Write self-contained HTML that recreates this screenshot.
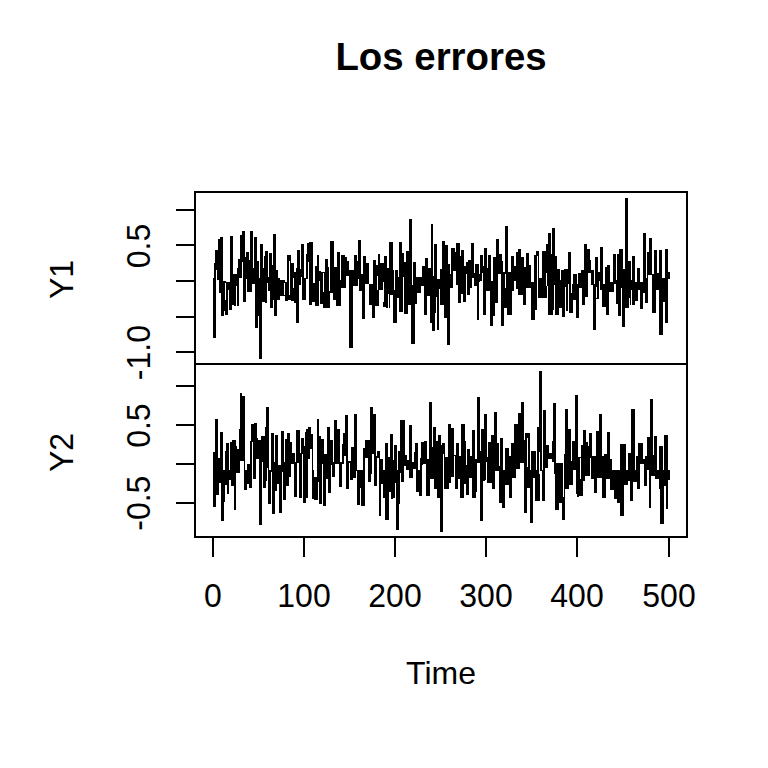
<!DOCTYPE html><html><head><meta charset="utf-8"><style>html,body{margin:0;padding:0;background:#fff;width:768px;height:768px;overflow:hidden}svg{display:block}</style></head><body><svg width="768" height="768" viewBox="0 0 768 768"><rect x="0" y="0" width="768" height="768" fill="#fff"/>
<g stroke="#000" stroke-width="2" fill="none" shape-rendering="crispEdges">
<rect x="195" y="192" width="492" height="172"/>
<rect x="195" y="364" width="492" height="173"/>
<line x1="176" y1="210" x2="195" y2="210"/>
<line x1="176" y1="245" x2="195" y2="245"/>
<line x1="176" y1="281" x2="195" y2="281"/>
<line x1="176" y1="317" x2="195" y2="317"/>
<line x1="176" y1="352" x2="195" y2="352"/>
<line x1="176" y1="386" x2="195" y2="386"/>
<line x1="176" y1="425" x2="195" y2="425"/>
<line x1="176" y1="464" x2="195" y2="464"/>
<line x1="176" y1="503" x2="195" y2="503"/>
<line x1="213" y1="537" x2="213" y2="557"/>
<line x1="304" y1="537" x2="304" y2="557"/>
<line x1="395" y1="537" x2="395" y2="557"/>
<line x1="486" y1="537" x2="486" y2="557"/>
<line x1="577" y1="537" x2="577" y2="557"/>
<line x1="669" y1="537" x2="669" y2="557"/>
</g>
<path d="M213.5 278V338M214.5 263V338M215.5 250V338M216.5 250V270M217.5 250V280M218.5 239V280M219.5 239V293M220.5 237V293M221.5 237V316M222.5 237V316M223.5 281V316M224.5 281V311M225.5 281V283M225.5 300V315M226.5 282V315M227.5 282V315M228.5 282V290M229.5 282V310M230.5 236V310M231.5 236V310M232.5 236V305M233.5 274V305M234.5 274V306M235.5 274V306M236.5 274V286M237.5 268V306M238.5 259V306M239.5 259V278M240.5 235V278M241.5 235V278M242.5 231V262M243.5 231V302M244.5 231V302M245.5 257V302M246.5 252V279M247.5 252V292M248.5 252V292M249.5 260V292M250.5 231V292M251.5 231V292M252.5 231V284M253.5 268V284M254.5 237V284M255.5 237V328M256.5 237V328M257.5 261V328M258.5 261V316M259.5 278V359M260.5 244V359M261.5 244V359M262.5 244V302M263.5 268V302M264.5 256V302M265.5 251V303M266.5 251V303M267.5 251V283M268.5 277V291M269.5 253V291M270.5 253V308M271.5 253V308M272.5 265V308M273.5 234V300M274.5 234V316M275.5 234V316M276.5 270V316M277.5 270V300M278.5 278V300M279.5 278V300M280.5 280V296M281.5 280V296M282.5 280V296M283.5 280V296M284.5 280V283M284.5 295V296M285.5 282V301M286.5 282V301M287.5 255V301M288.5 255V300M289.5 255V261M289.5 295V300M290.5 255V300M291.5 263V301M292.5 263V301M293.5 263V278M293.5 288V301M294.5 272V303M295.5 272V303M296.5 268V323M297.5 250V323M298.5 250V323M299.5 250V285M300.5 269V285M301.5 244V277M302.5 244V300M303.5 244V300M304.5 278V300M305.5 278V300M306.5 254V279M307.5 243V279M308.5 243V262M309.5 242V305M310.5 242V305M311.5 242V305M312.5 242V302M313.5 283V302M314.5 283V302M315.5 266V306M316.5 266V306M317.5 255V306M318.5 255V306M319.5 271V281M320.5 271V304M321.5 272V304M322.5 272V304M323.5 272V273M323.5 292V308M324.5 272V308M325.5 259V308M326.5 259V308M327.5 259V308M328.5 267V308M329.5 291V308M330.5 241V293M331.5 241V293M332.5 241V293M333.5 241V300M334.5 267V300M335.5 267V300M336.5 267V306M337.5 252V306M338.5 252V306M339.5 252V306M340.5 280V306M341.5 255V288M342.5 255V288M343.5 255V288M344.5 255V288M345.5 257V288M346.5 257V276M347.5 261V276M348.5 261V276M349.5 270V348M350.5 270V348M351.5 270V348M352.5 270V348M353.5 270V286M354.5 255V286M355.5 255V286M356.5 255V286M357.5 261V286M358.5 240V279M359.5 240V291M360.5 240V291M361.5 274V291M362.5 274V319M363.5 256V319M364.5 256V319M365.5 256V284M366.5 263V284M367.5 263V284M368.5 263V284M369.5 284V305M370.5 284V305M371.5 284V305M372.5 284V318M373.5 260V318M374.5 260V318M375.5 260V306M376.5 265V306M377.5 265V276M377.5 290V306M378.5 254V306M379.5 254V290M380.5 263V290M381.5 263V290M382.5 263V290M383.5 263V282M383.5 302V307M384.5 256V307M385.5 256V307M386.5 256V308M387.5 268V308M388.5 268V294M389.5 242V308M390.5 242V295M391.5 242V295M392.5 242V295M393.5 270V323M394.5 290V323M395.5 270V323M396.5 270V323M397.5 270V298M398.5 277V298M399.5 242V312M400.5 242V312M401.5 242V312M402.5 253V312M403.5 253V277M404.5 262V314M405.5 262V314M406.5 251V314M407.5 251V314M408.5 251V305M409.5 219V305M410.5 219V305M411.5 219V344M412.5 285V344M413.5 262V344M414.5 262V344M415.5 262V304M416.5 277V304M417.5 277V293M418.5 277V293M419.5 277V293M420.5 277V293M421.5 277V286M422.5 266V286M423.5 266V286M424.5 266V315M425.5 258V315M426.5 258V315M427.5 258V296M428.5 268V296M429.5 268V296M430.5 268V323M431.5 224V323M432.5 224V331M433.5 276V331M434.5 244V331M435.5 244V313M436.5 244V297M437.5 279V330M438.5 279V330M439.5 279V289M440.5 269V305M441.5 269V305M442.5 241V305M443.5 241V305M444.5 241V318M445.5 245V318M446.5 245V318M447.5 245V345M448.5 264V345M449.5 264V345M450.5 274V288M451.5 248V288M452.5 248V288M453.5 248V271M454.5 248V271M455.5 252V271M456.5 243V285M457.5 243V285M458.5 243V303M459.5 243V303M460.5 256V303M461.5 250V294M462.5 250V294M463.5 250V302M464.5 266V302M465.5 266V302M466.5 262V274M467.5 262V295M468.5 260V295M469.5 260V295M470.5 260V288M471.5 243V288M472.5 243V278M473.5 243V278M474.5 273V286M475.5 264V286M476.5 264V286M477.5 264V320M478.5 264V320M479.5 274V282M480.5 255V281M481.5 255V281M482.5 255V273M483.5 266V315M484.5 248V315M485.5 248V315M486.5 248V291M487.5 268V291M488.5 255V291M489.5 255V291M490.5 255V326M491.5 281V326M492.5 281V326M493.5 257V316M494.5 257V316M495.5 257V303M496.5 239V303M497.5 239V303M498.5 239V274M499.5 254V274M500.5 254V274M501.5 254V326M502.5 261V326M503.5 272V326M504.5 272V308M505.5 226V274M505.5 288V308M506.5 226V308M507.5 226V315M508.5 272V315M509.5 272V315M510.5 272V315M511.5 256V315M512.5 256V291M513.5 256V291M514.5 266V281M515.5 266V281M516.5 252V289M517.5 252V289M518.5 249V295M519.5 249V295M520.5 249V295M521.5 257V295M522.5 257V295M523.5 257V305M524.5 267V305M525.5 267V305M526.5 253V288M527.5 253V288M528.5 253V288M529.5 265V288M530.5 265V288M531.5 282V320M532.5 282V320M533.5 282V320M534.5 255V320M535.5 255V310M536.5 251V310M537.5 251V256M538.5 251V298M539.5 278V298M540.5 278V298M541.5 278V298M542.5 251V298M543.5 251V298M544.5 251V298M545.5 251V298M546.5 244V273M546.5 286V298M547.5 244V286M548.5 233V315M549.5 233V315M550.5 233V315M551.5 254V315M552.5 228V315M553.5 228V310M554.5 228V285M555.5 256V315M556.5 256V315M557.5 269V315M558.5 269V315M559.5 269V308M560.5 280V308M561.5 270V308M562.5 270V317M563.5 270V317M564.5 269V317M565.5 269V287M566.5 269V311M567.5 269V311M568.5 252V284M569.5 252V313M570.5 252V313M571.5 293V313M572.5 284V313M573.5 274V300M574.5 274V300M575.5 274V300M576.5 274V318M577.5 284V318M578.5 273V318M579.5 273V288M580.5 273V288M581.5 270V288M582.5 270V305M583.5 270V305M584.5 244V305M585.5 244V297M586.5 244V297M587.5 249V297M588.5 249V273M589.5 249V273M590.5 260V273M591.5 270V285M592.5 270V285M593.5 270V330M594.5 284V330M595.5 257V330M596.5 257V287M596.5 298V299M597.5 257V299M598.5 272V299M599.5 272V281M600.5 247V290M601.5 247V290M602.5 247V307M603.5 284V307M604.5 284V307M605.5 267V307M606.5 267V315M607.5 265V315M608.5 265V315M609.5 265V292M610.5 282V292M611.5 282V292M612.5 282V292M613.5 254V292M614.5 254V284M615.5 254V284M616.5 280V304M617.5 254V304M618.5 254V316M619.5 249V316M620.5 249V316M621.5 249V288M622.5 249V327M623.5 269V327M624.5 269V327M625.5 198V308M626.5 198V308M627.5 198V308M628.5 261V308M629.5 261V298M630.5 261V305M631.5 280V290M632.5 256V305M633.5 256V305M634.5 256V305M635.5 282V301M636.5 282V301M637.5 268V301M638.5 268V290M639.5 268V290M640.5 282V309M641.5 282V309M642.5 282V309M643.5 233V293M644.5 233V293M645.5 233V303M646.5 278V303M647.5 252V303M648.5 252V275M649.5 238V275M650.5 238V275M651.5 238V275M652.5 274V313M653.5 274V313M654.5 250V313M655.5 250V313M656.5 250V290M657.5 273V290M658.5 273V290M659.5 250V335M660.5 250V335M661.5 250V335M662.5 278V335M663.5 278V302M664.5 278V302M665.5 249V323M666.5 249V323M667.5 249V323M668.5 272V279M669.5 272V279" stroke="#000" stroke-width="1" fill="none" shape-rendering="crispEdges"/>
<path d="M213.5 452V507M214.5 452V507M215.5 419V507M216.5 419V495M217.5 419V495M218.5 458V495M219.5 458V483M220.5 432V483M221.5 432V521M222.5 432V521M223.5 470V521M224.5 470V502M225.5 451V485M226.5 443V485M227.5 443V494M228.5 443V494M229.5 470V480M230.5 442V480M231.5 442V486M232.5 440V486M233.5 440V486M234.5 440V510M235.5 440V510M236.5 446V473M237.5 449V473M238.5 449V473M239.5 429V473M240.5 393V461M241.5 393V461M242.5 396V461M243.5 396V461M244.5 396V490M245.5 470V490M246.5 470V490M247.5 464V484M248.5 464V484M249.5 464V488M250.5 441V488M251.5 424V488M252.5 424V442M253.5 424V479M254.5 423V479M255.5 423V479M256.5 423V459M257.5 438V459M258.5 440V459M259.5 440V525M260.5 440V525M261.5 436V525M262.5 436V462M263.5 436V488M264.5 436V488M265.5 427V488M266.5 407V481M267.5 407V468M268.5 407V504M269.5 470V504M270.5 470V504M271.5 433V472M272.5 433V514M273.5 433V514M274.5 462V514M275.5 435V491M276.5 435V491M277.5 435V484M278.5 465V484M279.5 465V513M280.5 465V513M281.5 431V513M282.5 431V472M283.5 431V500M284.5 462V500M285.5 439V500M286.5 439V486M287.5 433V486M288.5 433V486M289.5 433V477M290.5 442V477M291.5 442V464M292.5 453V464M293.5 453V464M294.5 453V497M295.5 462V497M296.5 430V497M297.5 430V463M298.5 430V463M299.5 430V498M300.5 453V498M301.5 438V498M302.5 438V454M303.5 438V503M304.5 446V503M305.5 432V503M306.5 429V498M307.5 429V498M308.5 427V459M309.5 427V459M310.5 427V449M311.5 434V449M312.5 434V499M313.5 470V499M314.5 477V500M315.5 477V500M316.5 477V500M317.5 419V500M318.5 419V482M319.5 436V504M320.5 436V504M321.5 439V504M322.5 439V464M323.5 439V506M324.5 454V506M325.5 454V506M326.5 454V479M327.5 427V479M328.5 427V493M329.5 427V493M330.5 440V493M331.5 440V465M332.5 440V477M333.5 462V477M334.5 420V477M335.5 420V464M336.5 420V464M337.5 429V464M338.5 429V464M339.5 429V487M340.5 462V487M341.5 462V487M342.5 444V464M343.5 433V464M344.5 433V456M345.5 415V456M346.5 415V489M347.5 415V489M348.5 461V489M349.5 461V463M350.5 461V480M351.5 447V480M352.5 447V480M353.5 447V478M354.5 414V478M355.5 414V478M356.5 414V471M357.5 470V505M358.5 470V505M359.5 470V505M360.5 470V488M361.5 470V506M362.5 470V506M363.5 448V506M364.5 448V506M365.5 440V458M366.5 440V458M367.5 440V458M368.5 440V482M369.5 440V482M370.5 407V482M371.5 407V474M372.5 407V454M373.5 414V454M374.5 414V486M375.5 414V486M376.5 456V486M377.5 451V458M378.5 451V458M379.5 451V516M380.5 459V516M381.5 459V484M382.5 459V484M383.5 470V498M384.5 470V498M385.5 443V520M386.5 443V520M387.5 443V520M388.5 457V520M389.5 457V492M390.5 434V492M391.5 434V499M392.5 434V499M393.5 460V498M394.5 445V498M395.5 445V483M396.5 445V530M397.5 470V530M398.5 451V530M399.5 451V504M400.5 420V473M401.5 420V482M402.5 420V482M403.5 420V482M404.5 420V466M405.5 455V466M406.5 455V470M407.5 460V470M408.5 460V470M409.5 425V478M410.5 425V478M411.5 425V478M412.5 462V478M413.5 462V469M414.5 452V469M415.5 443V469M416.5 443V492M417.5 443V492M418.5 470V492M419.5 470V496M420.5 458V496M421.5 442V496M422.5 442V465M423.5 442V464M424.5 441V464M425.5 441V464M426.5 441V496M427.5 459V496M428.5 459V496M429.5 402V496M430.5 402V479M431.5 402V479M432.5 447V479M433.5 427V479M434.5 427V489M435.5 427V489M436.5 441V489M437.5 441V498M438.5 435V498M439.5 435V498M440.5 435V532M441.5 445V532M442.5 443V532M443.5 443V454M444.5 443V489M445.5 457V489M446.5 457V489M447.5 457V489M448.5 424V489M449.5 424V483M450.5 424V483M451.5 428V477M452.5 428V477M453.5 428V477M454.5 455V456M455.5 455V489M456.5 443V489M457.5 443V489M458.5 443V479M459.5 456V479M460.5 456V498M461.5 424V498M462.5 424V498M463.5 424V498M464.5 424V484M465.5 441V484M466.5 465V495M467.5 449V495M468.5 449V495M469.5 449V478M470.5 456V478M471.5 456V478M472.5 430V498M473.5 430V498M474.5 430V498M475.5 459V498M476.5 459V492M477.5 397V463M478.5 397V463M479.5 397V463M480.5 451V521M481.5 429V521M482.5 429V521M483.5 429V481M484.5 414V481M485.5 414V480M486.5 414V462M487.5 457V483M488.5 442V483M489.5 442V483M490.5 442V483M491.5 435V483M492.5 435V489M493.5 435V489M494.5 412V489M495.5 412V471M496.5 412V471M497.5 443V471M498.5 443V471M499.5 466V503M500.5 438V503M501.5 438V503M502.5 438V508M503.5 470V508M504.5 470V508M505.5 448V485M506.5 448V485M507.5 448V485M508.5 448V485M509.5 456V498M510.5 456V498M511.5 443V498M512.5 443V478M513.5 443V478M514.5 424V478M515.5 424V478M516.5 424V469M517.5 424V469M518.5 413V469M519.5 413V469M520.5 413V463M521.5 402V463M522.5 402V463M523.5 402V463M524.5 440V513M525.5 433V513M526.5 433V513M527.5 433V438M527.5 467V488M528.5 433V488M529.5 433V488M530.5 470V523M531.5 451V523M532.5 451V523M533.5 451V478M534.5 451V478M535.5 451V501M536.5 470V501M537.5 427V501M538.5 427V501M539.5 371V452M539.5 474V501M540.5 371V471M541.5 371V471M542.5 470V501M543.5 410V501M544.5 410V501M545.5 410V468M546.5 445V468M547.5 445V468M548.5 445V459M549.5 453V459M550.5 453V459M551.5 453V459M552.5 441V462M553.5 403V462M554.5 403V474M555.5 403V510M556.5 463V510M557.5 463V510M558.5 463V510M559.5 463V503M560.5 463V503M561.5 463V503M562.5 463V520M563.5 497V520M564.5 454V520M565.5 409V489M566.5 409V489M567.5 409V489M568.5 429V489M569.5 429V485M570.5 429V485M571.5 461V485M572.5 441V485M573.5 441V470M574.5 441V470M575.5 395V470M576.5 395V494M577.5 395V497M578.5 457V497M579.5 457V496M580.5 457V458M580.5 479V496M581.5 445V496M582.5 445V496M583.5 430V481M584.5 430V481M585.5 430V476M586.5 442V476M587.5 442V476M588.5 446V476M589.5 433V476M590.5 433V458M591.5 433V479M592.5 456V479M593.5 456V479M594.5 456V493M595.5 456V493M596.5 431V493M597.5 431V478M598.5 431V478M599.5 414V478M600.5 414V478M601.5 414V478M602.5 456V498M603.5 456V498M604.5 454V498M605.5 454V498M606.5 454V479M607.5 432V479M608.5 432V479M609.5 432V479M610.5 459V490M611.5 459V490M612.5 470V490M613.5 470V490M614.5 470V499M615.5 470V499M616.5 470V499M617.5 470V503M618.5 470V503M619.5 470V503M620.5 444V516M621.5 444V516M622.5 444V516M623.5 444V516M624.5 444V485M625.5 444V485M626.5 470V485M627.5 470V485M628.5 453V481M629.5 453V481M630.5 453V501M631.5 409V501M632.5 409V501M633.5 409V482M634.5 409V482M635.5 470V482M636.5 456V482M637.5 456V489M638.5 443V489M639.5 443V489M640.5 443V464M641.5 443V464M642.5 443V464M643.5 459V464M644.5 459V486M645.5 456V486M646.5 456V486M647.5 437V470M648.5 437V470M649.5 437V508M650.5 399V508M651.5 399V476M652.5 399V476M653.5 455V476M654.5 436V476M655.5 436V479M656.5 436V479M657.5 470V479M658.5 470V479M659.5 446V489M660.5 446V524M661.5 446V524M662.5 446V524M663.5 470V524M664.5 435V486M665.5 435V486M666.5 435V509M667.5 435V509M668.5 470V480M669.5 470V480" stroke="#000" stroke-width="1" fill="none" shape-rendering="crispEdges"/>
<g font-family="&quot;Liberation Sans&quot;, Arial, sans-serif" fill="#000"><text x="441" y="69.5" font-size="38.4" font-weight="bold" text-anchor="middle">Los errores</text><text x="441" y="684" font-size="32" text-anchor="middle">Time</text><text transform="translate(213,606.6) scale(1,1.045)" font-size="32" text-anchor="middle">0</text><text transform="translate(304,606.6) scale(1,1.045)" font-size="32" text-anchor="middle">100</text><text transform="translate(395,606.6) scale(1,1.045)" font-size="32" text-anchor="middle">200</text><text transform="translate(486,606.6) scale(1,1.045)" font-size="32" text-anchor="middle">300</text><text transform="translate(577,606.6) scale(1,1.045)" font-size="32" text-anchor="middle">400</text><text transform="translate(669,606.6) scale(1,1.045)" font-size="32" text-anchor="middle">500</text><text transform="translate(73.2,279.5) rotate(-90) scale(1,1.03)" font-size="32" text-anchor="middle">Y1</text><text transform="translate(73.2,452.5) rotate(-90) scale(1,1.03)" font-size="32" text-anchor="middle">Y2</text><text transform="translate(150.3,246) rotate(-90) scale(1,1.045)" font-size="32" text-anchor="middle">0.5</text><text transform="translate(150.3,352.6) rotate(-90) scale(1,1.045)" font-size="32" text-anchor="middle">-1.0</text><text transform="translate(150.3,425.6) rotate(-90) scale(1,1.045)" font-size="32" text-anchor="middle">0.5</text><text transform="translate(150.3,503.2) rotate(-90) scale(1,1.045)" font-size="32" text-anchor="middle">-0.5</text></g></svg></body></html>
